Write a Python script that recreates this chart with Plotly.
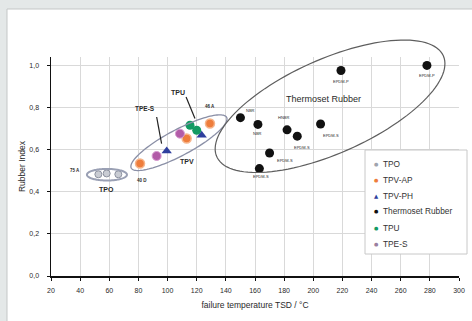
import numpy as np
import plotly.graph_objects as go

# ---------------- data ----------------
tpo_x = [52.5, 58.2, 66.2]
tpo_y = [0.483, 0.487, 0.483]
tpv_ap_x = [81.1, 113.1, 129.1]
tpv_ap_y = [0.534, 0.653, 0.724]
tpv_ph_x = [99.4, 123.4]
tpv_ph_y = [0.594, 0.668]
thermo_x = [278, 219, 150, 162, 182, 189, 205, 170, 163]
thermo_y = [1.0, 0.976, 0.752, 0.72, 0.694, 0.664, 0.722, 0.584, 0.51]
thermo_labels = ["EPDM-P", "EPDM-P", "NBR", "NBR", "HNBR", "EPDM-S", "EPDM-S", "EPDM-S", "EPDM-S"]
tpu_x = [115.4, 120.0]
tpu_y = [0.716, 0.692]
tpes_x = [92.5, 108.5]
tpes_y = [0.570, 0.676]

series_names = ["TPO", "TPV-AP", "TPV-PH", "Thermoset Rubber", "TPU", "TPE-S"]

x_ticks = list(range(20, 301, 20))
y_ticks = [0.0, 0.2, 0.4, 0.6, 0.8, 1.0]
y_ticklabels = ["0,0", "0,2", "0,4", "0,6", "0,8", "1,0"]

# ---------------- geometry ----------------
W, H = 472, 321
ML, MR, MT, MB = 51, 13, 57, 45
XR = [20, 300]
YR = [0, 1.04]
pw, ph = W - ML - MR, H - MT - MB

FONT = "Liberation Sans, Arial, sans-serif"
TXT = "#2a2a2a"

styles = {
    "TPO": dict(symbol="circle", color="#c9ccd3", line=dict(color="#8d92a0", width=1), size=7),
    "TPV-AP": dict(symbol="circle", color="#ee7d3c", line=dict(color="#f6b58c", width=1.5), size=9),
    "TPV-PH": dict(symbol="triangle-up", color="#2f3f9e", size=9),
    "Thermoset Rubber": dict(symbol="circle", color="#111111", size=9),
    "TPU": dict(symbol="circle", color="#139a63", size=9),
    "TPE-S": dict(symbol="circle", color="#b25ca8", line=dict(color="#d79ad0", width=1), size=9),
}
legend_glyph = {"TPO": ("●", "#a0a4ae"), "TPV-AP": ("●", "#ee7d3c"), "TPV-PH": ("▲", "#2f3f9e"),
                "Thermoset Rubber": ("●", "#111111"), "TPU": ("●", "#139a63"), "TPE-S": ("●", "#9a7fa0")}


def px2paper(xp, yp):
    return (xp - ML) / pw, (H - MB - yp) / ph


def ellipse_path(cx, cy, a_px, b_px, ang_deg, n=120):
    """Ellipse centred on data point (cx, cy), semi-axes in px, drawn in paper coords."""
    t = np.linspace(0, 2 * np.pi, n)
    th = np.radians(ang_deg)
    dx = a_px * np.cos(t) * np.cos(th) - b_px * np.sin(t) * np.sin(th)
    dy = a_px * np.cos(t) * np.sin(th) + b_px * np.sin(t) * np.cos(th)
    px0 = (cx - XR[0]) / (XR[1] - XR[0])
    py0 = (cy - YR[0]) / (YR[1] - YR[0])
    xs = px0 + dx / pw
    ys = py0 + dy / ph
    pts = [f"{x:.4f},{y:.4f}" for x, y in zip(xs, ys)]
    return "M " + " L ".join(pts) + " Z"


fig = go.Figure()
for name, xs, ys in zip(series_names,
                        [tpo_x, tpv_ap_x, tpv_ph_x, thermo_x, tpu_x, tpes_x],
                        [tpo_y, tpv_ap_y, tpv_ph_y, thermo_y, tpu_y, tpes_y]):
    fig.add_trace(go.Scatter(x=xs, y=ys, mode="markers", name=name, showlegend=False,
                             marker=styles[name]))

# legend box (drawn manually to match compact spacing)
lx0, ly0 = px2paper(365, 150)
lx1, ly1 = px2paper(467, 254)
shapes = [
    dict(type="rect", xref="paper", yref="paper", layer="below",
         x0=(7 - ML) / pw, x1=(W + 5 - ML) / pw,
         y0=-(MB + 10) / ph, y1=(H - 9 - MB) / ph,
         fillcolor="white", line=dict(color="#c4c7c7", width=1)),
    dict(type="path", xref="paper", yref="paper", path=ellipse_path(58.4, 0.481, 20, 5.8, 0),
         line=dict(color="#9aa0b4", width=2)),
    dict(type="path", xref="paper", yref="paper", path=ellipse_path(107.8, 0.633, 54, 13, 28),
         line=dict(color="#8a8fa6", width=1.3)),
    dict(type="path", xref="paper", yref="paper", path=ellipse_path(211.5, 0.806, 124, 47, 24),
         line=dict(color="#5e5e5e", width=1.2)),
    dict(type="line", x0=92.5, y0=0.755, x1=95.9, y1=0.629, line=dict(color="#222", width=1.2)),
    dict(type="line", x0=112.7, y0=0.85, x1=118.8, y1=0.748, line=dict(color="#222", width=1.2)),
    dict(type="rect", xref="paper", yref="paper", x0=lx0, y0=ly1, x1=lx1, y1=ly0,
         fillcolor="white", line=dict(color="#c8c8c8", width=1)),
]

offsets = [(0, -10), (0, -11), (10, 7), (0, -9), (-4, 12), (5, -11), (10, -12), (15, -7), (2, -8)]
ann = []
for x, y, lab, (dx, dy) in zip(thermo_x, thermo_y, thermo_labels, offsets):
    ann.append(dict(x=x, y=y, text=lab, showarrow=False, xshift=dx, yshift=dy,
                    font=dict(size=4, color=TXT, family=FONT)))
ann += [
    dict(x=207, y=0.84, text="Thermoset Rubber", showarrow=False, font=dict(size=9, color=TXT, family=FONT)),
    dict(x=84.5, y=0.795, text="<b>TPE-S</b>", showarrow=False, font=dict(size=6.5, color=TXT, family=FONT)),
    dict(x=107.4, y=0.873, text="<b>TPU</b>", showarrow=False, font=dict(size=7, color=TXT, family=FONT)),
    dict(x=113.1, y=0.545, text="<b>TPV</b>", showarrow=False, font=dict(size=7, color=TXT, family=FONT)),
    dict(x=tpv_ap_x[2], y=tpv_ap_y[2], text="<b>46 A</b>", showarrow=False, yshift=17,
         font=dict(size=4.5, color=TXT, family=FONT)),
    dict(x=tpo_x[0], y=tpo_y[0], text="<b>75 A</b>", showarrow=False, xshift=-23, yshift=4,
         font=dict(size=4.5, color=TXT, family=FONT)),
    dict(x=tpo_x[2], y=tpo_y[2], text="<b>40 D</b>", showarrow=False, xshift=24, yshift=-6,
         font=dict(size=4.5, color=TXT, family=FONT)),
    dict(x=tpo_x[1], y=tpo_y[1], text="<b>TPO</b>", showarrow=False, yshift=-16,
         font=dict(size=7, color=TXT, family=FONT)),
]

# legend entries
for i, name in enumerate(series_names):
    yp = 163.5 + 16 * i
    gx, gy = px2paper(376, yp)
    tx, _ = px2paper(381, yp)
    g, col = legend_glyph[name]
    ann.append(dict(xref="paper", yref="paper", x=gx, y=gy, text=g, showarrow=False,
                    xanchor="center", yanchor="middle",
                    font=dict(size=5 if g == "●" else 5.5, color=col, family="DejaVu Sans")))
    ann.append(dict(xref="paper", yref="paper", x=tx, y=gy, text=name, showarrow=False,
                    xanchor="left", yanchor="middle",
                    font=dict(size=8.3, color="#333", family=FONT)))

fig.update_layout(
    width=W, height=H,
    margin=dict(l=ML, r=MR, t=MT, b=MB, pad=0),
    paper_bgcolor="#e4e8e8",
    plot_bgcolor="rgba(0,0,0,0)",
    font=dict(family=FONT, size=7, color=TXT),
    shapes=shapes,
    annotations=ann,
    showlegend=False,
    hovermode=False,
    xaxis=dict(range=XR, tickvals=x_ticks, showgrid=True, gridcolor="#d9d9d9", gridwidth=1,
               zeroline=False, showline=True, linecolor="#111", linewidth=1.5,
               ticks="outside", ticklen=3, tickcolor="#111", tickwidth=1, automargin=False,
               ticklabelstandoff=4,
               tickfont=dict(size=7, color=TXT),
               title=dict(text="failure temperature TSD / °C", font=dict(size=8.5, color=TXT), standoff=9)),
    yaxis=dict(range=YR, tickvals=y_ticks, ticktext=y_ticklabels, showgrid=True, gridcolor="#d9d9d9",
               gridwidth=1, zeroline=False, showline=True, linecolor="#111", linewidth=1.5,
               ticks="outside", ticklen=3, tickcolor="#111", tickwidth=1, automargin=False,
               ticklabelstandoff=6,
               tickfont=dict(size=7, color=TXT),
               title=dict(text="Rubber Index", font=dict(size=8.5, color=TXT), standoff=2)),
)

fig.write_html("out.html", config={"displayModeBar": False, "staticPlot": True},
               post_script="document.body.style.margin='0';document.body.style.overflow='hidden';")
